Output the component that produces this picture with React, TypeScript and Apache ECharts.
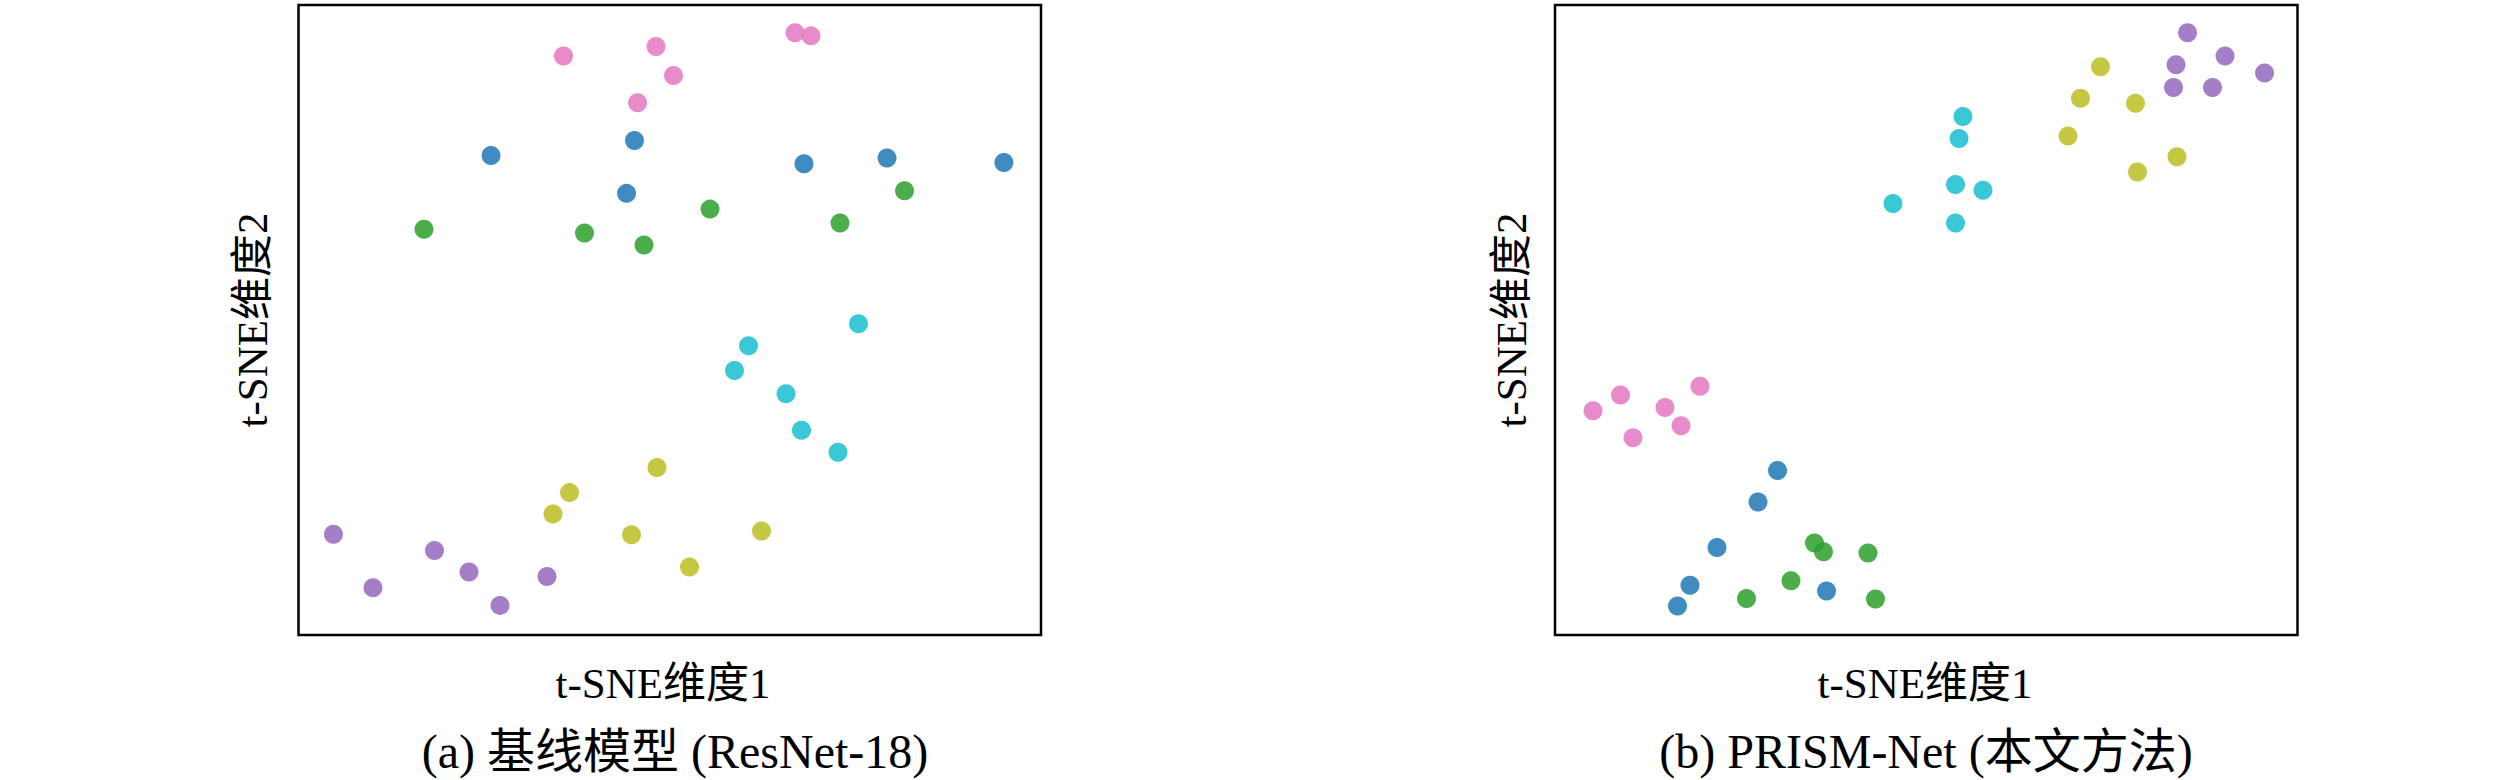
import React, { useEffect, useRef } from "react";
import * as echarts from "echarts";

// t-SNE coordinates (normalised 0-100 in each panel)
const classColors = ["#1f77b4", "#2ca02c", "#e377c2", "#17becf", "#bcbd22", "#9467bd"];

// (a) baseline model
const baseBlue = [[45.25, 78.5], [25.93, 76.1], [68.08, 74.8], [79.26, 75.7], [95.0, 75.0], [44.18, 70.1]];
const baseGreen = [[81.62, 70.5], [55.42, 67.6], [16.9, 64.4], [38.52, 63.8], [46.53, 61.9], [72.93, 65.4]];
const basePink = [[66.87, 95.6], [69.02, 95.1], [48.15, 93.4], [35.69, 91.9], [50.51, 88.8], [45.66, 84.5]];
const baseCyan = [[75.42, 49.4], [60.61, 45.9], [58.72, 42.0], [65.66, 38.3], [67.74, 32.5], [72.66, 29.0]];
const baseYellow = [[48.28, 26.6], [36.5, 22.6], [34.28, 19.2], [44.85, 15.9], [62.36, 16.5], [52.66, 10.8]];
const basePurple = [[4.71, 16.0], [18.32, 13.4], [10.03, 7.5], [22.96, 10.0], [33.47, 9.3], [27.14, 4.7]];

// (b) PRISM-Net
const oursBlue = [[29.97, 26.1], [27.34, 21.1], [21.82, 13.9], [18.18, 7.9], [16.5, 4.6], [36.57, 7.0]];
const oursGreen = [[34.95, 14.6], [36.16, 13.2], [42.15, 13.0], [31.78, 8.6], [25.79, 5.8], [43.16, 5.7]];
const oursPink = [[19.53, 39.5], [8.82, 38.1], [5.12, 35.6], [14.81, 36.1], [16.97, 33.2], [10.5, 31.3]];
const oursCyan = [[54.95, 82.3], [54.41, 78.8], [53.94, 71.5], [57.64, 70.6], [45.52, 68.5], [53.94, 65.4]];
const oursYellow = [[73.47, 90.2], [70.77, 85.2], [78.18, 84.4], [69.09, 79.2], [83.77, 75.9], [78.45, 73.5]];
const oursPurple = [[85.19, 95.6], [90.24, 91.9], [83.64, 90.5], [95.56, 89.2], [83.3, 86.9], [88.55, 86.9]];

const xLabel = "t-SNE维度1";
const yLabel = "t-SNE维度2";
const captions = ["(a) 基线模型 (ResNet-18)", "(b) PRISM-Net (本文方法)"];

const FONT = "'Liberation Serif', 'Noto Sans CJK SC', serif";

export default function App() {
  const ref = useRef<HTMLDivElement>(null);
  useEffect(() => {
    if (!ref.current) return;
    const chart = echarts.init(ref.current, undefined, { renderer: "svg" });
    const panels = [
      [baseBlue, baseGreen, basePink, baseCyan, baseYellow, basePurple],
      [oursBlue, oursGreen, oursPink, oursCyan, oursYellow, oursPurple],
    ];
    const grids = [
      { left: 298.5, top: 5, width: 742.5, height: 630 },
      { left: 1555, top: 5, width: 742.5, height: 630 },
    ];
    const series: any[] = [];
    panels.forEach((p, gi) => {
      p.forEach((d, ci) => {
        series.push({
          type: "scatter",
          xAxisIndex: gi,
          yAxisIndex: gi,
          data: d,
          symbol: "circle",
          symbolSize: 19,
          itemStyle: { color: classColors[ci], opacity: 0.85 },
          emphasis: { disabled: true },
        });
      });
    });
    const axisBase = {
      type: "value",
      min: 0,
      max: 100,
      axisLine: { show: false },
      axisTick: { show: false },
      axisLabel: { show: false },
      splitLine: { show: false },
    };
    const textStyle = (t: string, size: number) => ({
      text: t,
      fill: "#000",
      font: `${size}px ${FONT}`,
      textAlign: "center",
      textVerticalAlign: "middle",
    });
    const graphic: any[] = [];
    const xLabelX = [663, 1925];
    const capX = [675, 1926];
    const yLabelX = [252, 1511];
    [0, 1].forEach((i) => {
      graphic.push({ type: "text", x: xLabelX[i], y: 683, style: textStyle(xLabel, 43) });
      graphic.push({ type: "text", x: capX[i], y: 751, style: textStyle(captions[i], 48) });
      graphic.push({ type: "text", x: yLabelX[i], y: 320, rotation: Math.PI / 2, style: textStyle(yLabel, 43) });
    });
    chart.setOption({
      animation: false,
      backgroundColor: "#fff",
      grid: grids.map((g) => ({ ...g, show: true, borderColor: "#000", borderWidth: 2.5, backgroundColor: "transparent" })),
      xAxis: [0, 1].map((i) => ({ ...axisBase, gridIndex: i })),
      yAxis: [0, 1].map((i) => ({ ...axisBase, gridIndex: i })),
      series,
      graphic,
    });
    return () => chart.dispose();
  }, []);
  return <div ref={ref} style={{ position: "absolute", left: 0, top: 0, width: 2520, height: 780 }} />;
}
